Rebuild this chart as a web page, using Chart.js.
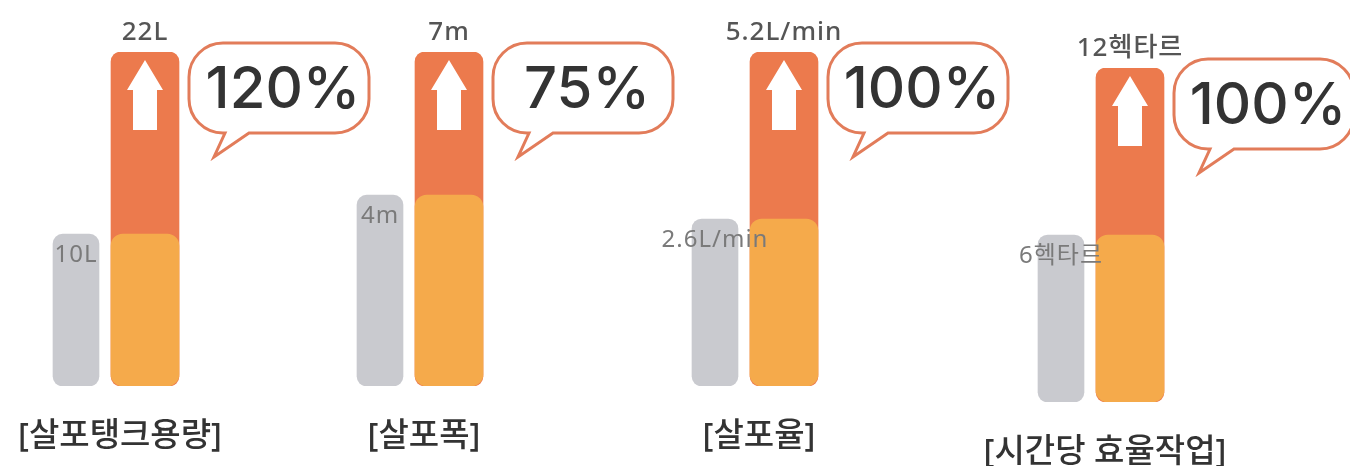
<!DOCTYPE html>
<html lang="ko">
<head>
<meta charset="utf-8">
<title>살포 성능 비교</title>
<script src="https://cdn.jsdelivr.net/npm/chart.js"></script>
<style>
  html, body { margin: 0; padding: 0; background: #fff; overflow: hidden; }
  #wrap { position: relative; width: 1350px; height: 466px; }
  #wrap canvas { position: absolute; left: 0; top: 0; }
</style>
</head>
<body>
<div id="wrap"></div>
<script>
"use strict";

// data
const categories = ['[살포탱크용량]', '[살포폭]', '[살포율]', '[시간당 효율작업]'];
const oldValues = [10, 4, 2.6, 6];
const newValues = [22, 7, 5.2, 12];
const oldLabels = ['10L', '4m', '2.6L/min', '6헥타르'];
const newLabels = ['22L', '7m', '5.2L/min', '12헥타르'];
const increaseLabels = ['120%', '75%', '100%', '100%'];

// layout of each group on the page (pixels)
const groupCenters = [105, 409, 744, 1090];
const groupTops = [52, 52, 52, 68];
const groupBottoms = [386, 386, 386, 402];

const W = 1350, H = 466;
const FONT = '"Noto Sans", "Noto Sans CJK KR", sans-serif';

function bubblePath(ctx, left, top, w, h, r) {
  const right = left + w, bottom = top + h;
  ctx.beginPath();
  ctx.moveTo(left + r, top);
  ctx.lineTo(right - r, top);
  ctx.arcTo(right, top, right, top + r, r);
  ctx.lineTo(right, bottom - r);
  ctx.arcTo(right, bottom, right - r, bottom, r);
  ctx.lineTo(left + 60, bottom);
  ctx.lineTo(left + 25, bottom + 24);
  ctx.lineTo(left + 36, bottom);
  ctx.lineTo(left + r, bottom);
  ctx.arcTo(left, bottom, left, bottom - r, r);
  ctx.lineTo(left, top + r);
  ctx.arcTo(left, top, left + r, top, r);
  ctx.closePath();
}

const decorPlugin = {
  id: 'decor',
  afterDatasetsDraw(chart, args, opts) {
    const i = opts.index;
    const ctx = chart.ctx;
    const grayBar = chart.getDatasetMeta(0).data[0];
    const newBar = chart.getDatasetMeta(2).data[0];
    const half = newBar.width / 2;
    ctx.save();

    // arrow inside the new bar
    const ax = newBar.x, ay = newBar.y;
    ctx.fillStyle = '#ffffff';
    ctx.beginPath();
    ctx.moveTo(ax, ay + 8);
    ctx.lineTo(ax + 18, ay + 38);
    ctx.lineTo(ax + 12, ay + 38);
    ctx.lineTo(ax + 12, ay + 78);
    ctx.lineTo(ax - 12, ay + 78);
    ctx.lineTo(ax - 12, ay + 38);
    ctx.lineTo(ax - 18, ay + 38);
    ctx.closePath();
    ctx.fill();

    // value labels
    ctx.textAlign = 'center';
    ctx.textBaseline = 'alphabetic';
    ctx.letterSpacing = '1px';
    ctx.fillStyle = '#555';
    ctx.font = '500 26px ' + FONT;
    ctx.fillText(newLabels[i], newBar.x, newBar.y - 12);
    ctx.fillStyle = '#7a7a7a';
    ctx.font = '400 24px ' + FONT;
    ctx.fillText(oldLabels[i], grayBar.x, grayBar.y + 28);
    ctx.letterSpacing = '0px';

    // speech bubble
    const bl = newBar.x + half + 10;
    const bt = newBar.y - 9;
    bubblePath(ctx, bl, bt, 180, 90, 34);
    ctx.fillStyle = '#ffffff';
    ctx.fill();
    ctx.lineWidth = 3;
    ctx.strokeStyle = '#e27c5a';
    ctx.stroke();
    ctx.fillStyle = '#333';
    ctx.font = '500 58px Inter, ' + FONT;
    ctx.textBaseline = 'middle';
    ctx.fillText(increaseLabels[i], bl + 94, bt + 48);

    // category label
    const left = grayBar.x - grayBar.width / 2;
    const right = newBar.x + half;
    ctx.font = '500 33px ' + FONT;
    ctx.fillStyle = '#333';
    ctx.fillText(categories[i], (left + right) / 2 + 4, chart.chartArea.bottom + 51);
    ctx.restore();
  }
};

const wrap = document.getElementById('wrap');

categories.forEach((cat, i) => {
  const canvas = document.createElement('canvas');
  canvas.width = W;
  canvas.height = H;
  wrap.appendChild(canvas);

  new Chart(canvas, {
    type: 'bar',
    data: {
      labels: [cat],
      datasets: [
        {
          label: '기존',
          data: [oldValues[i]],
          stack: 'old',
          backgroundColor: '#c9cacf',
          barThickness: 58,
          maxBarThickness: 46,
          borderRadius: 10,
          borderSkipped: false,
        },
        {
          label: '기존 수준',
          data: [oldValues[i]],
          stack: 'new',
          backgroundColor: '#f5aa4b',
          barThickness: 80,
          maxBarThickness: 68,
          borderRadius: 12,
          borderSkipped: false,
        },
        {
          label: '신규',
          data: [newValues[i]],
          stack: 'new',
          backgroundColor: '#ec7a4d',
          barThickness: 80,
          maxBarThickness: 68,
          borderRadius: 10,
          borderSkipped: false,
        },
      ],
    },
    options: {
      responsive: false,
      animation: false,
      layout: {
        padding: {
          left: groupCenters[i] - 100,
          right: W - (groupCenters[i] + 100),
          top: groupTops[i],
          bottom: H - groupBottoms[i],
        },
      },
      scales: {
        x: { display: false },
        y: { display: false, stacked: false, min: 0, max: newValues[i] },
      },
      plugins: {
        legend: { display: false },
        tooltip: { enabled: false },
        decor: { index: i },
      },
    },
    plugins: [decorPlugin],
  });
});
</script>
</body>
</html>
